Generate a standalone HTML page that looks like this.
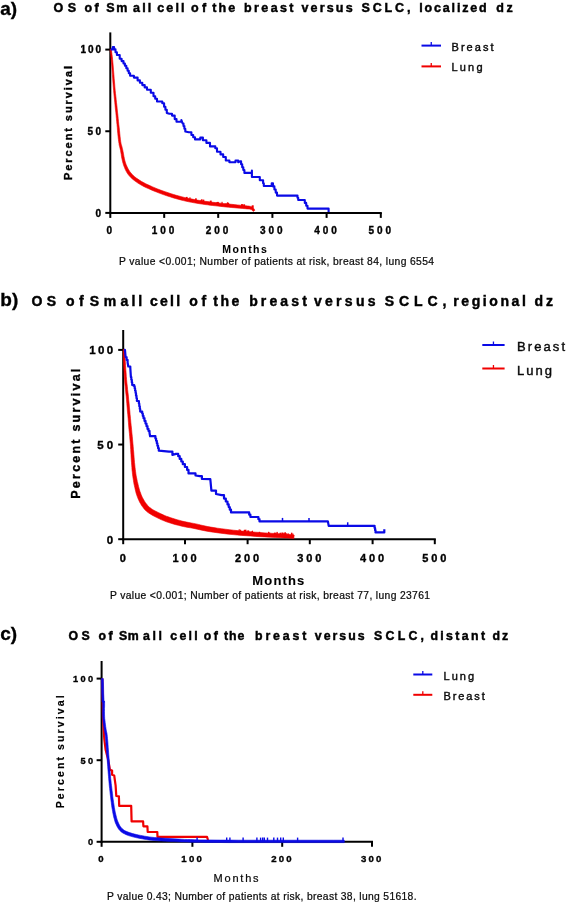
<!DOCTYPE html>
<html><head><meta charset="utf-8"><style>
html,body{margin:0;padding:0;background:#fff;}
svg{display:block;will-change:transform;filter:blur(0.4px);}
text{font-family:"Liberation Sans",sans-serif;}
</style></head><body>
<svg width="567" height="904" viewBox="0 0 567 904">
<rect width="567" height="904" fill="#fff"/>
<text x="0.3" y="15.2" font-size="19" font-weight="700" text-anchor="start" fill="#000" stroke="#000" stroke-width="0.35">a)</text>
<text y="12" font-size="12.5" font-weight="700" fill="#000" stroke="#000" stroke-width="0.45"><tspan x="53.50" style="letter-spacing:4.54px">OS</tspan><tspan x="84.60" style="letter-spacing:2.29px">of</tspan><tspan x="106.20" style="letter-spacing:1.66px">Sm</tspan><tspan x="133.10" style="letter-spacing:2.10px">all</tspan><tspan x="157.30" style="letter-spacing:2.10px">cell</tspan><tspan x="190.90" style="letter-spacing:3.49px">of</tspan><tspan x="212.30" style="letter-spacing:2.12px">the</tspan><tspan x="244.10" style="letter-spacing:2.38px">breast</tspan><tspan x="301.50" style="letter-spacing:2.16px">versus</tspan><tspan x="361.40" style="letter-spacing:2.90px">SCLC,</tspan><tspan x="419.30" style="letter-spacing:1.82px">localized</tspan><tspan x="496.30" style="letter-spacing:2.53px">dz</tspan></text>
<line x1="421.5" y1="45.6" x2="441" y2="45.6" stroke="#0a0ae6" stroke-width="2"/>
<line x1="431.25" y1="42.1" x2="431.25" y2="45.6" stroke="#0a0ae6" stroke-width="1.3"/>
<text x="451.5" y="50.5" font-size="11" font-weight="400" text-anchor="start" textLength="42" lengthAdjust="spacing" fill="#0a0a0a" stroke="#0a0a0a" stroke-width="0.4">Breast</text>
<line x1="421.5" y1="66.4" x2="441" y2="66.4" stroke="#f00000" stroke-width="2"/>
<line x1="431.25" y1="62.900000000000006" x2="431.25" y2="66.4" stroke="#f00000" stroke-width="1.3"/>
<text x="451.5" y="71.2" font-size="11" font-weight="400" text-anchor="start" textLength="31" lengthAdjust="spacing" fill="#0a0a0a" stroke="#0a0a0a" stroke-width="0.4">Lung</text>
<text x="72.2" y="180" font-size="11" font-weight="700" text-anchor="start" textLength="114" lengthAdjust="spacing" transform="rotate(-90 72.2 180)" fill="#000" stroke="#000" stroke-width="0.35">Percent survival</text>
<line x1="110.3" y1="32.4" x2="110.3" y2="213.9" stroke="#000" stroke-width="2"/>
<line x1="109.3" y1="212.9" x2="381.8" y2="212.9" stroke="#000" stroke-width="2"/>
<line x1="105.3" y1="49.6" x2="110.3" y2="49.6" stroke="#000" stroke-width="2"/>
<line x1="105.3" y1="131.25" x2="110.3" y2="131.25" stroke="#000" stroke-width="2"/>
<line x1="105.3" y1="212.9" x2="110.3" y2="212.9" stroke="#000" stroke-width="2"/>
<line x1="110.3" y1="212.9" x2="110.3" y2="217.9" stroke="#000" stroke-width="2"/>
<line x1="164.2" y1="212.9" x2="164.2" y2="217.9" stroke="#000" stroke-width="2"/>
<line x1="218.2" y1="212.9" x2="218.2" y2="217.9" stroke="#000" stroke-width="2"/>
<line x1="272.4" y1="212.9" x2="272.4" y2="217.9" stroke="#000" stroke-width="2"/>
<line x1="326.6" y1="212.9" x2="326.6" y2="217.9" stroke="#000" stroke-width="2"/>
<line x1="380.8" y1="212.9" x2="380.8" y2="217.9" stroke="#000" stroke-width="2"/>
<text x="101" y="53.2" font-size="10" font-weight="700" text-anchor="end" textLength="20.5" lengthAdjust="spacing" fill="#000" stroke="#000" stroke-width="0.35">100</text>
<text x="101" y="134.79999999999998" font-size="10" font-weight="700" text-anchor="end" textLength="13.5" lengthAdjust="spacing" fill="#000" stroke="#000" stroke-width="0.35">50</text>
<text x="101" y="216.5" font-size="10" font-weight="700" text-anchor="end" textLength="5.8" lengthAdjust="spacing" fill="#000" stroke="#000" stroke-width="0.35">0</text>
<text x="109.2" y="233.5" font-size="10" font-weight="700" text-anchor="middle" textLength="5.8" lengthAdjust="spacing" fill="#000" stroke="#000" stroke-width="0.35">0</text>
<text x="163.1" y="233.5" font-size="10" font-weight="700" text-anchor="middle" textLength="22.5" lengthAdjust="spacing" fill="#000" stroke="#000" stroke-width="0.35">100</text>
<text x="217.1" y="233.5" font-size="10" font-weight="700" text-anchor="middle" textLength="22.5" lengthAdjust="spacing" fill="#000" stroke="#000" stroke-width="0.35">200</text>
<text x="271.29999999999995" y="233.5" font-size="10" font-weight="700" text-anchor="middle" textLength="22.5" lengthAdjust="spacing" fill="#000" stroke="#000" stroke-width="0.35">300</text>
<text x="325.5" y="233.5" font-size="10" font-weight="700" text-anchor="middle" textLength="22.5" lengthAdjust="spacing" fill="#000" stroke="#000" stroke-width="0.35">400</text>
<text x="379.7" y="233.5" font-size="10" font-weight="700" text-anchor="middle" textLength="22.5" lengthAdjust="spacing" fill="#000" stroke="#000" stroke-width="0.35">500</text>
<text x="222.3" y="253" font-size="10.5" font-weight="700" text-anchor="start" textLength="44.5" lengthAdjust="spacing" fill="#000" stroke="#000" stroke-width="0.05">Months</text>
<text x="119" y="264.5" font-size="10.3" font-weight="400" text-anchor="start" textLength="315" lengthAdjust="spacing" fill="#0a0a0a" stroke="#0a0a0a" stroke-width="0.22">P value &lt;0.001; Number of patients at risk, breast 84, lung 6554</text>
<polygon points="110.1,49.5 110.2,50.8 110.4,52.5 110.7,54.6 110.9,57.0 111.2,59.7 111.5,62.7 111.8,66.1 112.1,70.2 112.4,74.5 112.7,78.9 113.0,83.2 113.3,87.1 113.6,90.5 113.9,93.8 114.2,96.8 114.5,99.8 114.8,102.8 115.1,105.9 115.4,109.0 115.8,112.2 116.1,115.4 116.4,118.6 116.7,121.7 117.0,124.7 117.3,127.7 117.5,130.8 117.8,133.8 118.1,136.7 118.4,139.4 118.7,141.8 119.0,143.6 119.2,145.1 119.5,146.3 119.8,147.5 120.1,148.7 120.5,150.2 120.8,152.2 121.2,154.3 121.5,156.7 122.0,159.1 122.5,161.4 123.1,163.6 123.7,165.6 124.5,167.6 125.3,169.5 126.2,171.3 127.2,173.1 128.4,174.8 129.7,176.3 131.1,177.8 132.7,179.2 134.3,180.5 136.1,181.8 137.9,183.1 139.9,184.3 142.0,185.5 144.2,186.7 146.5,187.8 148.9,188.8 151.3,189.9 153.9,191.0 156.5,192.0 159.2,193.1 161.9,194.1 164.7,195.1 167.4,196.0 170.0,196.8 172.7,197.7 175.4,198.5 178.1,199.2 180.7,199.9 183.4,200.6 186.1,201.2 188.8,201.8 191.4,202.3 194.1,202.8 196.8,203.3 199.4,203.7 202.1,204.1 204.7,204.5 207.4,204.8 210.0,205.2 212.7,205.5 215.3,205.8 218.0,206.1 220.6,206.4 223.3,206.7 225.9,207.0 228.6,207.2 231.2,207.5 234.0,207.7 237.0,208.0 239.9,208.2 242.7,208.5 245.2,208.7 247.1,208.9 248.5,209.0 249.5,209.1 250.1,209.2 250.4,209.3 250.7,209.4 251.1,209.5 251.3,209.5 251.5,209.6 251.5,209.6 251.7,209.7 251.9,210.0 252.1,210.2 252.3,210.5 252.5,210.7 252.7,210.9 252.9,211.1 253.0,211.3 253.1,211.4 254.9,210.2 254.8,210.0 254.7,209.8 254.5,209.6 254.3,209.3 254.1,209.0 253.9,208.8 253.8,208.6 253.7,208.4 253.5,208.0 253.1,207.6 252.7,207.2 252.1,206.9 251.6,206.7 251.2,206.6 250.6,206.4 249.9,206.3 248.9,206.1 247.5,205.9 245.5,205.7 243.0,205.4 240.2,205.2 237.3,204.9 234.3,204.6 231.6,204.3 228.9,204.1 226.3,203.8 223.6,203.5 221.0,203.2 218.3,202.9 215.7,202.6 213.1,202.3 210.4,202.0 207.8,201.6 205.2,201.3 202.6,200.9 200.0,200.5 197.3,200.1 194.7,199.6 192.1,199.1 189.4,198.6 186.8,198.0 184.2,197.4 181.6,196.7 178.9,196.0 176.3,195.3 173.7,194.5 171.1,193.7 168.4,192.8 165.8,191.9 163.1,191.0 160.4,190.0 157.7,189.0 155.1,187.9 152.7,186.9 150.3,185.8 148.0,184.8 145.7,183.7 143.6,182.6 141.6,181.5 139.7,180.3 137.9,179.1 136.3,178.0 134.7,176.8 133.3,175.5 132.0,174.2 130.8,172.8 129.7,171.4 128.7,169.8 127.8,168.2 127.0,166.5 126.2,164.7 125.5,162.8 124.9,160.8 124.4,158.6 123.9,156.2 123.5,153.9 123.1,151.7 122.7,149.8 122.3,148.2 122.0,146.9 121.7,145.8 121.3,144.6 121.0,143.3 120.7,141.4 120.4,139.2 120.1,136.5 119.8,133.7 119.5,130.6 119.2,127.5 118.8,124.5 118.5,121.5 118.2,118.4 117.9,115.2 117.5,112.0 117.2,108.9 116.9,105.7 116.5,102.6 116.2,99.7 115.9,96.7 115.5,93.6 115.2,90.4 114.9,86.9 114.6,83.1 114.2,78.8 113.9,74.4 113.5,70.1 113.2,66.0 112.9,62.5 112.6,59.5 112.3,56.8 112.0,54.4 111.7,52.3 111.5,50.6 111.3,49.3" fill="#f00000" stroke="#f00000" stroke-width="0.6" stroke-linejoin="round"/>
<rect x="185.9" y="196.9" width="1.7" height="2.0" fill="#f00000"/>
<rect x="189.4" y="197.3" width="1.1" height="2.2" fill="#f00000"/>
<rect x="195.1" y="198.3" width="1.6" height="2.4" fill="#f00000"/>
<rect x="200.7" y="200.0" width="1.0" height="1.7" fill="#f00000"/>
<rect x="200.9" y="199.3" width="1.5" height="2.5" fill="#f00000"/>
<rect x="202.4" y="199.6" width="1.9" height="2.3" fill="#f00000"/>
<rect x="209.8" y="200.6" width="1.9" height="2.3" fill="#f00000"/>
<rect x="216.5" y="202.0" width="1.8" height="1.9" fill="#f00000"/>
<rect x="216.9" y="201.9" width="1.9" height="1.9" fill="#f00000"/>
<rect x="221.5" y="201.8" width="1.1" height="2.5" fill="#f00000"/>
<rect x="225.5" y="203.3" width="1.2" height="1.5" fill="#f00000"/>
<rect x="226.9" y="202.3" width="1.4" height="2.7" fill="#f00000"/>
<rect x="227.5" y="202.8" width="1.3" height="2.2" fill="#f00000"/>
<rect x="227.8" y="203.0" width="1.4" height="2.0" fill="#f00000"/>
<rect x="241.0" y="204.5" width="1.6" height="1.8" fill="#f00000"/>
<rect x="241.1" y="204.2" width="1.9" height="2.1" fill="#f00000"/>
<rect x="243.2" y="204.3" width="1.9" height="2.3" fill="#f00000"/>
<rect x="251.7" y="205.3" width="2.0" height="2.5" fill="#f00000"/>
<polyline points="110.7,49.4 112.8,49.4 112.8,47.1 114.1,47.1 114.1,49.4 115.5,49.4 115.5,52.2 116.9,52.2 116.9,55.0 119.7,55.0 119.7,58.8 121.6,58.8 121.6,61.1 123.5,61.1 123.5,63.5 124.9,63.5 124.9,65.8 126.3,65.8 126.3,68.2 127.6,68.2 127.6,70.7 128.8,70.7 128.8,73.2 130.1,73.2 130.1,75.7 133.9,75.7 133.9,77.6 137.6,77.6 137.6,80.4 139.9,80.4 139.9,82.8 142.3,82.8 142.3,85.1 144.7,85.1 144.7,87.4 147.0,87.4 147.0,89.8 150.8,89.8 150.8,92.7 153.5,92.7 153.5,96.2 155.2,96.2 155.2,98.8 157.0,98.8 157.0,101.5 160.6,101.5 162.3,101.5 162.3,103.2 164.1,103.2 164.1,106.8 165.4,106.8 165.4,109.8 166.8,109.8 166.8,112.9 169.4,113.8 172.0,113.8 172.0,115.6 174.7,115.6 174.7,119.1 176.5,119.1 176.5,121.7 179.1,121.7 181.4,121.7 181.4,120.0 182.6,123.5 183.5,123.5 183.5,126.1 184.4,126.1 184.4,128.8 185.3,128.8 185.3,131.4 188.8,132.3 191.4,132.3 191.4,135.0 193.2,135.0 193.2,137.2 195.0,137.2 195.0,139.4 198.5,139.4 200.3,139.4 200.3,137.6 202.9,137.6 202.9,140.3 206.4,140.3 206.4,142.9 210.0,142.9 210.0,146.4 215.3,146.4 215.3,148.2 217.0,148.2 217.0,151.7 220.5,151.7 220.5,154.4 223.2,154.4 223.2,157.0 225.8,157.0 225.8,160.5 229.4,160.5 229.4,162.3 233.8,162.3 235.5,162.3 235.5,160.5 238.2,160.5 238.2,162.3 240.0,161.4 241.1,161.4 241.1,164.3 242.2,164.3 242.2,167.2 243.3,167.2 243.3,170.0 244.4,170.0 244.4,172.9 250.5,172.9 251.9,172.9 251.9,170.5 251.9,177.0 258.5,177.0 259.8,177.0 259.8,180.3 262.5,180.3 263.1,180.3 263.1,183.2 263.8,183.2 263.8,186.0 270.4,186.0 271.7,186.0 271.7,183.4 273.0,183.4 273.0,186.4 274.4,186.4 274.4,189.5 275.7,189.5 275.7,192.6 277.0,192.6 277.0,195.6 296.9,195.6 297.5,195.6 297.5,197.8 298.2,197.8 298.2,200.0 303.5,200.0 304.8,200.0 304.8,202.9 306.2,202.9 306.2,205.7 307.5,205.7 307.5,208.6 327.3,208.6 328.6,208.6 328.6,212.0" fill="none" stroke="#0a0ae6" stroke-width="2.1" stroke-linejoin="round" stroke-linecap="butt"/>
<text x="0.3" y="306.3" font-size="19" font-weight="700" text-anchor="start" fill="#000" stroke="#000" stroke-width="0.35">b)</text>
<text y="305.5" font-size="14" font-weight="700" fill="#000" stroke="#000" stroke-width="0.45"><tspan x="31.50" style="letter-spacing:4.47px">OS</tspan><tspan x="65.90" style="letter-spacing:4.47px">of</tspan><tspan x="89.70" style="letter-spacing:4.73px">Sm</tspan><tspan x="120.60" style="letter-spacing:3.00px">all</tspan><tspan x="150.00" style="letter-spacing:2.27px">cell</tspan><tspan x="189.20" style="letter-spacing:3.77px">of</tspan><tspan x="213.20" style="letter-spacing:2.55px">the</tspan><tspan x="249.20" style="letter-spacing:3.12px">breast</tspan><tspan x="314.00" style="letter-spacing:3.27px">versus</tspan><tspan x="384.70" style="letter-spacing:4.95px">SCLC,</tspan><tspan x="453.30" style="letter-spacing:2.59px">regional</tspan><tspan x="534.40" style="letter-spacing:2.96px">dz</tspan></text>
<line x1="482.3" y1="345" x2="504.6" y2="345" stroke="#0a0ae6" stroke-width="2"/>
<line x1="493.45000000000005" y1="341.5" x2="493.45000000000005" y2="345" stroke="#0a0ae6" stroke-width="1.3"/>
<text x="517" y="350.8" font-size="13" font-weight="400" text-anchor="start" textLength="48" lengthAdjust="spacing" fill="#0a0a0a" stroke="#0a0a0a" stroke-width="0.4">Breast</text>
<line x1="482.3" y1="368.5" x2="504.6" y2="368.5" stroke="#f00000" stroke-width="2"/>
<line x1="493.45000000000005" y1="365.0" x2="493.45000000000005" y2="368.5" stroke="#f00000" stroke-width="1.3"/>
<text x="517" y="374.8" font-size="13" font-weight="400" text-anchor="start" textLength="35" lengthAdjust="spacing" fill="#0a0a0a" stroke="#0a0a0a" stroke-width="0.4">Lung</text>
<text x="80.5" y="498.7" font-size="12.5" font-weight="700" text-anchor="start" textLength="130" lengthAdjust="spacing" transform="rotate(-90 80.5 498.7)" fill="#000" stroke="#000" stroke-width="0.35">Percent survival</text>
<line x1="123.2" y1="330" x2="123.2" y2="540.2" stroke="#000" stroke-width="2"/>
<line x1="122.2" y1="539.2" x2="435.8" y2="539.2" stroke="#000" stroke-width="2"/>
<line x1="118.2" y1="349.9" x2="123.2" y2="349.9" stroke="#000" stroke-width="2"/>
<line x1="118.2" y1="444.55" x2="123.2" y2="444.55" stroke="#000" stroke-width="2"/>
<line x1="118.2" y1="539.2" x2="123.2" y2="539.2" stroke="#000" stroke-width="2"/>
<line x1="123.2" y1="539.2" x2="123.2" y2="544.2" stroke="#000" stroke-width="2"/>
<line x1="185" y1="539.2" x2="185" y2="544.2" stroke="#000" stroke-width="2"/>
<line x1="247.6" y1="539.2" x2="247.6" y2="544.2" stroke="#000" stroke-width="2"/>
<line x1="309.8" y1="539.2" x2="309.8" y2="544.2" stroke="#000" stroke-width="2"/>
<line x1="372.6" y1="539.2" x2="372.6" y2="544.2" stroke="#000" stroke-width="2"/>
<line x1="434.8" y1="539.2" x2="434.8" y2="544.2" stroke="#000" stroke-width="2"/>
<text x="113.2" y="354.29999999999995" font-size="11.5" font-weight="700" text-anchor="end" textLength="24" lengthAdjust="spacing" fill="#000" stroke="#000" stroke-width="0.35">100</text>
<text x="113.2" y="448.9" font-size="11.5" font-weight="700" text-anchor="end" textLength="16" lengthAdjust="spacing" fill="#000" stroke="#000" stroke-width="0.35">50</text>
<text x="113.2" y="543.6" font-size="11.5" font-weight="700" text-anchor="end" textLength="6.5" lengthAdjust="spacing" fill="#000" stroke="#000" stroke-width="0.35">0</text>
<text x="122.7" y="562.4" font-size="11" font-weight="700" text-anchor="middle" textLength="6.2" lengthAdjust="spacing" fill="#000" stroke="#000" stroke-width="0.35">0</text>
<text x="184.5" y="562.4" font-size="11" font-weight="700" text-anchor="middle" textLength="24" lengthAdjust="spacing" fill="#000" stroke="#000" stroke-width="0.35">100</text>
<text x="247.1" y="562.4" font-size="11" font-weight="700" text-anchor="middle" textLength="24" lengthAdjust="spacing" fill="#000" stroke="#000" stroke-width="0.35">200</text>
<text x="309.3" y="562.4" font-size="11" font-weight="700" text-anchor="middle" textLength="24" lengthAdjust="spacing" fill="#000" stroke="#000" stroke-width="0.35">300</text>
<text x="372.1" y="562.4" font-size="11" font-weight="700" text-anchor="middle" textLength="24" lengthAdjust="spacing" fill="#000" stroke="#000" stroke-width="0.35">400</text>
<text x="434.3" y="562.4" font-size="11" font-weight="700" text-anchor="middle" textLength="24" lengthAdjust="spacing" fill="#000" stroke="#000" stroke-width="0.35">500</text>
<text x="252.3" y="584.9" font-size="13" font-weight="700" text-anchor="start" textLength="52" lengthAdjust="spacing" fill="#000" stroke="#000" stroke-width="0.1">Months</text>
<text x="110" y="598.7" font-size="10.3" font-weight="400" text-anchor="start" textLength="320" lengthAdjust="spacing" fill="#0a0a0a" stroke="#0a0a0a" stroke-width="0.22">P value &lt;0.001; Number of patients at risk, breast 77, lung 23761</text>
<polygon points="123.1,349.5 123.2,350.5 123.2,351.9 123.2,353.5 123.2,355.4 123.3,357.5 123.4,359.9 123.5,362.7 123.7,365.9 123.9,369.3 124.1,372.9 124.3,376.4 124.6,379.9 124.8,383.2 125.2,386.4 125.5,389.7 125.8,393.0 126.2,396.3 126.5,399.8 126.8,403.4 127.1,407.2 127.4,411.0 127.8,414.8 128.1,418.6 128.4,422.3 128.7,426.0 129.0,429.7 129.4,433.3 129.7,436.8 130.0,440.3 130.3,443.5 130.5,446.6 130.7,449.5 130.8,452.2 131.0,454.9 131.1,457.5 131.3,460.1 131.5,462.7 131.7,465.1 131.9,467.5 132.0,469.9 132.3,472.1 132.5,474.3 132.8,476.4 133.1,478.4 133.4,480.3 133.7,482.2 134.0,484.0 134.4,485.8 134.8,487.6 135.2,489.4 135.6,491.1 136.0,492.8 136.5,494.4 137.1,496.1 137.7,497.7 138.3,499.2 139.0,500.7 139.7,502.2 140.5,503.6 141.3,505.0 142.2,506.3 143.1,507.5 144.0,508.7 145.1,509.9 146.2,511.0 147.4,512.1 148.8,513.1 150.3,514.0 151.8,514.9 153.3,515.8 154.8,516.6 156.3,517.3 157.9,518.1 159.4,518.8 161.0,519.6 162.7,520.3 164.5,521.0 166.4,521.8 168.6,522.5 170.9,523.2 173.3,524.0 175.8,524.7 178.3,525.3 180.8,525.9 183.2,526.5 185.6,527.0 188.0,527.4 190.3,527.8 192.7,528.2 195.0,528.7 197.3,529.2 199.5,529.7 201.8,530.2 204.3,530.7 206.9,531.2 209.9,531.7 213.3,532.2 216.9,532.7 220.7,533.2 224.7,533.7 228.8,534.2 233.0,534.6 237.2,535.0 241.6,535.4 246.1,535.7 250.7,536.0 255.3,536.4 259.9,536.7 264.7,536.9 269.9,537.2 275.2,537.5 280.1,537.7 284.5,537.9 287.9,538.1 290.2,538.2 291.7,538.3 292.5,538.4 293.0,538.4 293.3,538.5 293.8,538.5 294.2,535.1 293.9,535.0 293.6,534.9 293.0,534.8 292.0,534.7 290.5,534.5 288.1,534.3 284.7,534.1 280.4,533.8 275.4,533.5 270.2,533.2 265.0,532.9 260.1,532.5 255.6,532.2 251.0,531.8 246.5,531.5 242.0,531.1 237.6,530.6 233.4,530.2 229.3,529.7 225.3,529.2 221.3,528.7 217.5,528.2 213.9,527.6 210.7,527.1 207.8,526.6 205.2,526.0 202.9,525.5 200.6,525.0 198.4,524.4 196.0,523.9 193.6,523.4 191.2,523.0 188.9,522.5 186.6,522.1 184.3,521.6 182.0,521.1 179.7,520.4 177.2,519.8 174.8,519.0 172.5,518.3 170.2,517.6 168.2,516.8 166.3,516.2 164.7,515.5 163.1,514.8 161.6,514.1 160.2,513.4 158.7,512.7 157.1,511.9 155.7,511.2 154.2,510.4 152.9,509.7 151.7,508.9 150.6,508.1 149.5,507.3 148.6,506.4 147.7,505.5 146.9,504.5 146.1,503.5 145.3,502.4 144.5,501.2 143.8,500.0 143.1,498.7 142.4,497.4 141.7,496.0 141.1,494.5 140.6,493.1 140.0,491.6 139.5,490.0 139.1,488.4 138.6,486.7 138.2,485.0 137.8,483.2 137.3,481.5 137.0,479.7 136.6,477.8 136.2,475.9 135.9,473.9 135.6,471.7 135.3,469.5 135.0,467.2 134.8,464.9 134.5,462.4 134.3,459.9 134.1,457.3 133.9,454.7 133.7,452.0 133.4,449.3 133.2,446.4 132.9,443.3 132.6,440.0 132.3,436.6 131.9,433.0 131.6,429.4 131.2,425.7 130.8,422.1 130.5,418.4 130.1,414.6 129.8,410.8 129.4,407.0 129.1,403.2 128.7,399.6 128.4,396.1 128.0,392.8 127.6,389.5 127.3,386.2 126.9,383.0 126.6,379.7 126.3,376.3 126.1,372.7 125.8,369.2 125.6,365.8 125.4,362.6 125.2,359.9 125.1,357.5 125.0,355.3 125.0,353.4 124.9,351.8 124.9,350.5 124.9,349.5" fill="#f00000" stroke="#f00000" stroke-width="0.6" stroke-linejoin="round"/>
<rect x="238.7" y="529.2" width="1.0" height="2.5" fill="#f00000"/>
<rect x="240.1" y="529.7" width="1.0" height="2.2" fill="#f00000"/>
<rect x="243.7" y="529.9" width="1.3" height="2.3" fill="#f00000"/>
<rect x="244.5" y="529.7" width="2.0" height="2.5" fill="#f00000"/>
<rect x="247.2" y="530.4" width="2.0" height="2.0" fill="#f00000"/>
<rect x="251.5" y="531.1" width="1.1" height="1.7" fill="#f00000"/>
<rect x="252.0" y="530.7" width="1.0" height="2.1" fill="#f00000"/>
<rect x="258.8" y="531.8" width="1.4" height="1.6" fill="#f00000"/>
<rect x="268.0" y="531.8" width="1.2" height="2.2" fill="#f00000"/>
<rect x="268.3" y="532.6" width="1.9" height="1.4" fill="#f00000"/>
<rect x="273.9" y="532.6" width="2.0" height="1.7" fill="#f00000"/>
<rect x="276.4" y="531.9" width="1.4" height="2.6" fill="#f00000"/>
<rect x="279.6" y="532.7" width="1.5" height="1.9" fill="#f00000"/>
<rect x="281.4" y="532.5" width="1.6" height="2.2" fill="#f00000"/>
<rect x="283.2" y="532.7" width="1.6" height="2.1" fill="#f00000"/>
<rect x="284.5" y="532.3" width="1.5" height="2.6" fill="#f00000"/>
<rect x="284.9" y="533.0" width="1.7" height="1.9" fill="#f00000"/>
<rect x="287.5" y="533.4" width="1.3" height="1.6" fill="#f00000"/>
<rect x="290.9" y="532.7" width="1.5" height="2.7" fill="#f00000"/>
<rect x="292.4" y="533.5" width="1.0" height="2.1" fill="#f00000"/>
<polyline points="124.0,349.5 125.0,350.0 125.6,357.2 126.6,357.2 126.6,359.9 127.6,359.9 127.6,362.5 128.3,366.5 130.3,366.5 130.3,367.9 130.9,377.1 131.3,377.1 131.3,379.8 131.8,379.8 131.8,382.4 132.2,382.4 132.2,385.1 134.2,385.1 134.2,386.4 134.7,386.4 134.7,388.6 135.1,388.6 135.1,390.8 135.6,390.8 135.6,393.0 136.0,393.0 136.0,395.7 136.5,395.7 136.5,398.3 136.9,398.3 136.9,401.0 138.9,401.0 138.9,403.7 139.3,403.7 139.3,406.3 139.8,406.3 139.8,409.0 140.2,409.0 140.2,411.6 142.2,411.6 142.2,413.6 142.8,413.6 142.8,415.9 143.5,415.9 143.5,418.2 144.5,418.2 144.5,420.9 145.5,420.9 145.5,423.6 146.5,423.6 146.5,426.2 147.5,426.2 147.5,428.9 148.5,428.9 148.5,430.9 149.5,430.9 149.5,432.8 150.1,436.2 154.8,436.2 155.4,436.2 155.4,438.5 156.1,438.5 156.1,440.8 156.8,440.8 156.8,443.3 157.4,443.3 157.4,445.8 158.1,445.8 158.1,448.2 158.8,448.2 158.8,450.7 169.0,451.6 172.4,451.6 172.4,455.0 175.9,453.9 178.2,453.9 178.2,456.2 179.7,456.2 179.7,458.9 181.3,458.9 181.3,461.5 182.8,461.5 182.8,464.2 184.9,464.2 184.9,467.0 187.1,467.0 187.1,469.9 188.5,469.9 188.5,473.4 194.1,473.4 195.5,473.4 195.5,475.5 199.8,476.2 201.9,476.2 201.9,479.0 210.3,479.1 211.4,490.6 216.0,490.6 216.0,494.0 221.7,495.2 224.0,495.2 224.0,498.6 225.8,498.6 225.8,501.5 227.5,501.5 227.5,504.4 228.7,504.4 228.7,507.1 229.8,507.1 229.8,509.7 231.0,509.7 231.0,512.4 248.1,512.4 249.2,512.4 249.2,514.7 250.4,514.7 250.4,517.0 257.3,517.0 258.4,517.0 258.4,519.2 259.5,519.2 259.5,521.4 327.9,521.4 328.7,525.8 374.2,525.8 374.6,525.8 374.6,528.0 375.1,528.0 375.1,530.2 375.5,530.2 375.5,532.4 383.0,532.4 384.3,532.4 384.3,529.3" fill="none" stroke="#0a0ae6" stroke-width="2.2" stroke-linejoin="round" stroke-linecap="butt"/>
<line x1="282.5" y1="517.9" x2="282.5" y2="521.4" stroke="#0a0ae6" stroke-width="1.5"/>
<line x1="309" y1="517.9" x2="309" y2="521.4" stroke="#0a0ae6" stroke-width="1.5"/>
<line x1="347.7" y1="522.3" x2="347.7" y2="525.8" stroke="#0a0ae6" stroke-width="1.5"/>
<text x="0.3" y="639.9" font-size="19" font-weight="700" text-anchor="start" fill="#000" stroke="#000" stroke-width="0.35">c)</text>
<text y="640" font-size="12.3" font-weight="700" fill="#000" stroke="#000" stroke-width="0.45"><tspan x="68.40" style="letter-spacing:3.53px">OS</tspan><tspan x="98.50" style="letter-spacing:2.48px">of</tspan><tspan x="118.90" style="letter-spacing:0.67px">Sm</tspan><tspan x="142.90" style="letter-spacing:2.72px">all</tspan><tspan x="170.30" style="letter-spacing:2.25px">cell</tspan><tspan x="203.80" style="letter-spacing:2.48px">of</tspan><tspan x="224.10" style="letter-spacing:0.93px">the</tspan><tspan x="255.00" style="letter-spacing:2.88px">breast</tspan><tspan x="314.80" style="letter-spacing:2.03px">versus</tspan><tspan x="374.10" style="letter-spacing:3.25px">SCLC,</tspan><tspan x="430.40" style="letter-spacing:2.38px">distant</tspan><tspan x="492.40" style="letter-spacing:2.05px">dz</tspan></text>
<line x1="413.3" y1="674.5" x2="432.3" y2="674.5" stroke="#0a0ae6" stroke-width="2"/>
<line x1="422.8" y1="671.0" x2="422.8" y2="674.5" stroke="#0a0ae6" stroke-width="1.3"/>
<text x="443.5" y="680" font-size="11" font-weight="400" text-anchor="start" textLength="30.5" lengthAdjust="spacing" fill="#0a0a0a" stroke="#0a0a0a" stroke-width="0.4">Lung</text>
<line x1="413.3" y1="694.8" x2="432.3" y2="694.8" stroke="#f00000" stroke-width="2"/>
<line x1="422.8" y1="691.3" x2="422.8" y2="694.8" stroke="#f00000" stroke-width="1.3"/>
<text x="443.5" y="700" font-size="11" font-weight="400" text-anchor="start" textLength="41.2" lengthAdjust="spacing" fill="#0a0a0a" stroke="#0a0a0a" stroke-width="0.4">Breast</text>
<text x="64" y="808.3" font-size="10.6" font-weight="700" text-anchor="start" textLength="113" lengthAdjust="spacing" transform="rotate(-90 64 808.3)" fill="#000" stroke="#000" stroke-width="0.15">Percent survival</text>
<line x1="101.6" y1="661" x2="101.6" y2="842.8" stroke="#000" stroke-width="2"/>
<line x1="100.6" y1="841.8" x2="373.0" y2="841.8" stroke="#000" stroke-width="2"/>
<line x1="96.6" y1="678.6" x2="101.6" y2="678.6" stroke="#000" stroke-width="2"/>
<line x1="96.6" y1="760.2" x2="101.6" y2="760.2" stroke="#000" stroke-width="2"/>
<line x1="96.6" y1="841.8" x2="101.6" y2="841.8" stroke="#000" stroke-width="2"/>
<line x1="101.6" y1="841.8" x2="101.6" y2="846.8" stroke="#000" stroke-width="2"/>
<line x1="192.4" y1="841.8" x2="192.4" y2="846.8" stroke="#000" stroke-width="2"/>
<line x1="282.2" y1="841.8" x2="282.2" y2="846.8" stroke="#000" stroke-width="2"/>
<line x1="372" y1="841.8" x2="372" y2="846.8" stroke="#000" stroke-width="2"/>
<text x="93" y="681.9" font-size="9.2" font-weight="700" text-anchor="end" textLength="20" lengthAdjust="spacing" fill="#000" stroke="#000" stroke-width="0.35">100</text>
<text x="93" y="763.5999999999999" font-size="9.2" font-weight="700" text-anchor="end" textLength="12.5" lengthAdjust="spacing" fill="#000" stroke="#000" stroke-width="0.35">50</text>
<text x="93" y="845.0999999999999" font-size="9.2" font-weight="700" text-anchor="end" textLength="5.4" lengthAdjust="spacing" fill="#000" stroke="#000" stroke-width="0.35">0</text>
<text x="100.8" y="862.4" font-size="9.6" font-weight="700" text-anchor="middle" textLength="5.5" lengthAdjust="spacing" fill="#000" stroke="#000" stroke-width="0.35">0</text>
<text x="191.6" y="862.4" font-size="9.6" font-weight="700" text-anchor="middle" textLength="20.5" lengthAdjust="spacing" fill="#000" stroke="#000" stroke-width="0.35">100</text>
<text x="281.4" y="862.4" font-size="9.6" font-weight="700" text-anchor="middle" textLength="20.5" lengthAdjust="spacing" fill="#000" stroke="#000" stroke-width="0.35">200</text>
<text x="371.2" y="862.4" font-size="9.6" font-weight="700" text-anchor="middle" textLength="20.5" lengthAdjust="spacing" fill="#000" stroke="#000" stroke-width="0.35">300</text>
<text x="213.6" y="882.1" font-size="11" font-weight="400" text-anchor="start" textLength="45" lengthAdjust="spacing" fill="#0a0a0a" stroke="#0a0a0a" stroke-width="0.22">Months</text>
<text x="107" y="899.6" font-size="10.3" font-weight="400" text-anchor="start" textLength="309.5" lengthAdjust="spacing" fill="#0a0a0a" stroke="#0a0a0a" stroke-width="0.22">P value 0.43; Number of patients at risk, breast 38, lung 51618.</text>
<polyline points="102.3,678.6 103.0,717.8 104.3,739.1 105.6,749.7 108.2,760.0 110.0,769.9 112.1,770.6 112.1,774.8 114.2,775.5 115.6,785.4 116.3,796.0 118.9,796.4 119.2,805.9 131.2,805.9 131.6,821.4 143.1,821.4 143.4,826.3 147.4,826.3 147.7,832.0 157.3,832.0 157.5,836.9 207.0,836.9 208.0,840.0" fill="none" stroke="#f00000" stroke-width="2.2" stroke-linejoin="round" stroke-linecap="butt"/>
<polygon points="101.3,678.6 101.4,681.3 101.5,685.1 101.6,689.5 101.7,694.0 101.9,697.9 102.0,700.7 102.1,702.0 103.6,703.0 104.3,702.0 104.4,701.7 102.6,701.5 102.6,702.0 102.6,703.7 102.6,705.9 102.6,708.6 102.5,711.4 102.5,714.1 102.6,716.5 102.8,718.8 103.0,720.9 103.2,723.0 103.5,725.0 103.8,726.9 104.0,728.6 104.2,730.1 104.5,731.3 104.7,732.4 104.9,733.5 105.1,734.8 105.3,736.5 105.5,738.8 105.8,741.5 106.0,744.5 106.2,747.5 106.4,750.2 106.6,752.5 106.7,754.2 106.8,755.4 106.9,756.4 107.0,757.4 107.1,758.5 107.2,760.1 107.4,762.0 107.5,764.3 107.7,766.7 107.9,769.2 108.1,771.8 108.3,774.2 108.5,776.5 108.7,778.8 108.9,781.1 109.1,783.4 109.3,785.8 109.6,788.3 109.9,791.0 110.2,794.0 110.6,797.0 110.9,799.9 111.3,802.7 111.6,805.3 111.9,807.5 112.3,809.6 112.6,811.5 112.9,813.3 113.3,815.0 113.6,816.7 114.1,818.4 114.5,819.9 114.9,821.4 115.4,822.9 116.0,824.2 116.5,825.5 117.2,826.7 117.8,827.8 118.5,828.9 119.2,829.8 120.1,830.8 121.0,831.7 122.1,832.5 123.2,833.2 124.4,833.8 125.6,834.4 127.0,835.0 128.5,835.6 130.2,836.1 131.9,836.6 133.8,837.1 135.8,837.6 137.9,838.0 140.0,838.4 142.1,838.8 144.2,839.2 146.3,839.5 148.7,839.9 151.3,840.2 154.3,840.5 157.7,840.8 161.5,841.0 165.6,841.2 169.8,841.4 174.0,841.6 177.9,841.8 181.4,841.9 184.4,842.0 187.3,842.1 190.6,842.2 194.7,842.3 200.0,842.3 206.2,842.4 212.9,842.5 220.5,842.5 229.0,842.6 238.8,842.6 250.0,842.6 264.2,842.6 281.6,842.6 300.3,842.6 318.2,842.6 333.5,842.6 344.3,842.6 344.3,840.2 333.5,840.2 318.2,840.2 300.3,840.2 281.6,840.2 264.2,840.2 250.0,840.2 238.8,840.2 229.0,840.1 220.5,840.1 213.0,840.0 206.2,839.9 200.0,839.9 194.8,839.7 190.7,839.6 187.4,839.5 184.5,839.4 181.5,839.2 178.1,839.0 174.1,838.8 170.0,838.6 165.8,838.3 161.7,838.1 157.9,837.8 154.5,837.5 151.6,837.2 149.1,836.9 146.8,836.5 144.7,836.2 142.7,835.8 140.6,835.4 138.5,835.0 136.5,834.5 134.6,834.1 132.7,833.6 131.1,833.1 129.5,832.6 128.1,832.1 126.9,831.6 125.7,831.1 124.7,830.6 123.8,830.0 123.0,829.3 122.2,828.7 121.5,827.9 120.8,827.1 120.2,826.3 119.6,825.3 119.1,824.3 118.5,823.1 118.0,821.9 117.5,820.6 117.0,819.2 116.6,817.7 116.2,816.1 115.8,814.5 115.4,812.8 115.0,811.0 114.7,809.2 114.3,807.2 114.0,804.9 113.6,802.4 113.2,799.6 112.8,796.7 112.5,793.7 112.1,790.8 111.8,788.1 111.5,785.6 111.2,783.2 111.0,780.9 110.7,778.6 110.5,776.3 110.3,774.0 110.1,771.6 109.9,769.1 109.7,766.6 109.5,764.1 109.3,761.9 109.2,759.9 109.1,758.4 109.0,757.2 108.9,756.2 108.8,755.2 108.7,754.0 108.6,752.3 108.4,750.0 108.2,747.3 108.0,744.3 107.8,741.4 107.5,738.6 107.3,736.3 107.1,734.5 106.9,733.1 106.6,732.0 106.4,730.9 106.2,729.8 106.0,728.4 105.7,726.6 105.5,724.8 105.2,722.8 105.0,720.7 104.7,718.6 104.6,716.5 104.5,714.1 104.5,711.4 104.5,708.6 104.6,706.0 104.6,703.7 104.6,702.0 104.5,701.0 102.5,701.0 102.4,701.5 102.8,701.2 104.1,701.7 104.0,700.5 103.9,697.8 103.7,693.9 103.6,689.5 103.5,685.0 103.4,681.2 103.3,678.6" fill="#0a0ae6" stroke="#0a0ae6" stroke-width="0.6" stroke-linejoin="round"/>
<line x1="197.1" y1="837.6" x2="197.1" y2="841" stroke="#0a0ae6" stroke-width="1.4"/>
<line x1="226.7" y1="837.6" x2="226.7" y2="841" stroke="#0a0ae6" stroke-width="1.4"/>
<line x1="229.9" y1="837.6" x2="229.9" y2="841" stroke="#0a0ae6" stroke-width="1.4"/>
<line x1="243.1" y1="837.6" x2="243.1" y2="841" stroke="#0a0ae6" stroke-width="1.4"/>
<line x1="256.9" y1="837.6" x2="256.9" y2="841" stroke="#0a0ae6" stroke-width="1.4"/>
<line x1="260.6" y1="837.6" x2="260.6" y2="841" stroke="#0a0ae6" stroke-width="1.4"/>
<line x1="262.7" y1="837.6" x2="262.7" y2="841" stroke="#0a0ae6" stroke-width="1.4"/>
<line x1="264.3" y1="837.6" x2="264.3" y2="841" stroke="#0a0ae6" stroke-width="1.4"/>
<line x1="267.5" y1="837.6" x2="267.5" y2="841" stroke="#0a0ae6" stroke-width="1.4"/>
<line x1="273.8" y1="837.6" x2="273.8" y2="841" stroke="#0a0ae6" stroke-width="1.4"/>
<line x1="277.5" y1="837.6" x2="277.5" y2="841" stroke="#0a0ae6" stroke-width="1.4"/>
<line x1="280.7" y1="837.6" x2="280.7" y2="841" stroke="#0a0ae6" stroke-width="1.4"/>
<line x1="283.3" y1="837.6" x2="283.3" y2="841" stroke="#0a0ae6" stroke-width="1.4"/>
<line x1="297.6" y1="837.6" x2="297.6" y2="841" stroke="#0a0ae6" stroke-width="1.4"/>
<line x1="343" y1="837.6" x2="343" y2="841" stroke="#0a0ae6" stroke-width="1.4"/>
</svg>
</body></html>
